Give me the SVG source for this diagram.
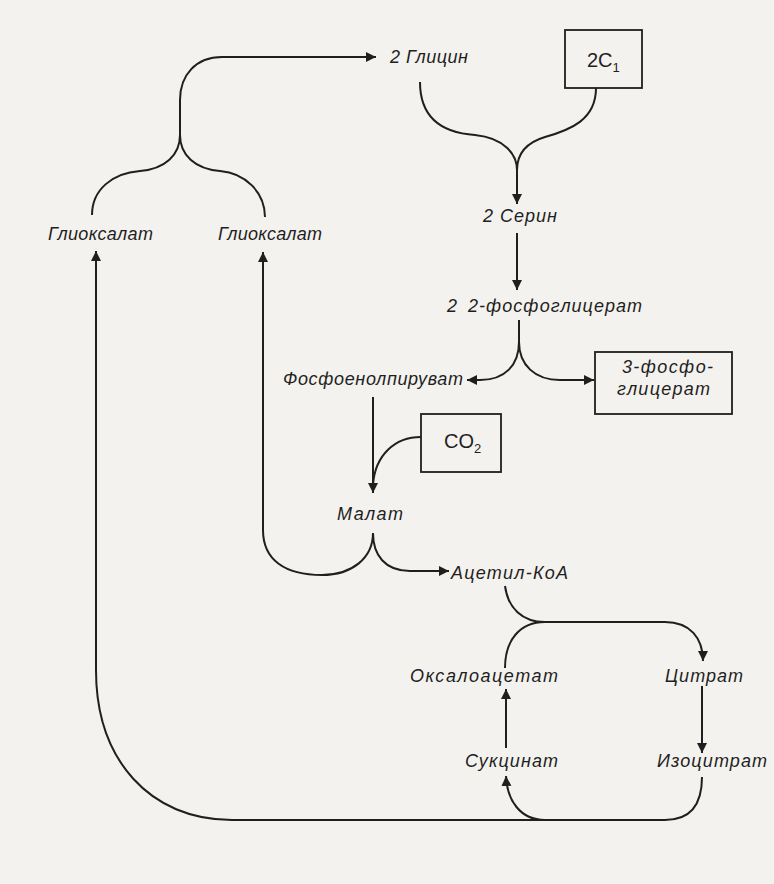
<svg xmlns="http://www.w3.org/2000/svg" width="774" height="884" viewBox="0 0 774 884">
<style>
.lbl{font-family:"Liberation Sans","DejaVu Sans",sans-serif;font-style:italic;font-size:18px;fill:#1f1f1f}
.box{fill:none;stroke:#1f1f1f;stroke-width:1.8}
.btx{font-family:"Liberation Sans","DejaVu Sans",sans-serif;font-size:20px;fill:#1f1f1f}
.sub{font-size:13px}
.c{fill:none;stroke:#1f1f1f;stroke-width:2}
.a{marker-end:url(#ah)}
</style>
<defs>
<marker id="ah" viewBox="0 0 10 10" refX="10" refY="5" markerWidth="10" markerHeight="11" markerUnits="userSpaceOnUse" orient="auto">
<path d="M0,0 L10,5 L0,10 z" fill="#1f1f1f"/>
</marker>
</defs>
<rect x="0" y="0" width="774" height="884" fill="#f4f2ee"/>
<g id="connectors">
<path class="c" d="M92 215 C92 190 112 173 140 171 C165 169 180 155 180 135"/>
<path class="c a" d="M265 217 C265 192 245 173 220 171 C195 169 180 155 180 135 V100 C180 75 196 57 222 57 L376 57"/>
<path class="c" d="M420 82 C420 120 445 133 475 135 C505 138 517 155 517 170"/>
<path class="c a" d="M596 88 C596 120 570 130 545 137 C525 143 517 155 517 170 V204"/>
<path class="c a" d="M517 233 V290"/>
<path class="c a" d="M519 320 V342 C519 365 505 380 480 380 L467 380"/>
<path class="c a" d="M519 342 C519 365 535 380 560 380 L594 380"/>
<path class="c a" d="M373 397 V493"/>
<path class="c" d="M421 437 C395 437 375 455 373 485"/>
<path class="c a" d="M373 533 C373 558 352 575 322 575 C285 575 263 560 263 530 V252"/>
<path class="c a" d="M373 533 C373 555 385 571 410 571 L449 571"/>
<path class="c a" d="M505 586 C508 608 522 622 545 622 L665 622 C690 622 703 638 703 661"/>
<path class="c" d="M545 622 C520 622 505 640 505 668"/>
<path class="c a" d="M702 686 V753"/>
<path class="c a" d="M702 777 C702 805 690 820 665 820 L545 820 C520 820 507 800 506 776"/>
<path class="c a" d="M506 748 V689"/>
<path class="c a" d="M545 820 L232 820 C150 820 96 760 96 670 V251"/>
</g>
<g id="glycine"><text class="lbl" x="390" y="63" textLength="78">2 Глицин</text></g>
<g id="c1"><rect class="box" x="565" y="30" width="77" height="58"/><text class="btx" x="587" y="67">2C<tspan class="sub" dy="5">1</tspan></text></g>
<g id="serine"><text class="lbl" x="483" y="222" textLength="74">2 Серин</text></g>
<g id="pg2"><text class="lbl" x="447" y="312">2</text><text class="lbl" x="468" y="312" textLength="174">2-фосфоглицерат</text></g>
<g id="pep"><text class="lbl" x="283" y="385" textLength="180">Фосфоенолпируват</text></g>
<g id="pg3"><rect class="box" x="595" y="352" width="137" height="62"/><text class="lbl" x="622" y="373" textLength="91">3-фосфо-</text><text class="lbl" x="617" y="395" textLength="93">глицерат</text></g>
<g id="co2"><rect class="box" x="421" y="414" width="80" height="58"/><text class="btx" x="444" y="448">CO<tspan class="sub" dy="5">2</tspan></text></g>
<g id="malate"><text class="lbl" x="337" y="520" textLength="66">Малат</text></g>
<g id="acetylcoa"><text class="lbl" x="451" y="579" textLength="117">Ацетил-КоА</text></g>
<g id="glyox1"><text class="lbl" x="48" y="240" textLength="105">Глиоксалат</text></g>
<g id="glyox2"><text class="lbl" x="218" y="240" textLength="104">Глиоксалат</text></g>
<g id="oaa"><text class="lbl" x="410" y="682" textLength="148">Оксалоацетат</text></g>
<g id="citrate"><text class="lbl" x="665" y="682" textLength="78">Цитрат</text></g>
<g id="succinate"><text class="lbl" x="465" y="767" textLength="93">Сукцинат</text></g>
<g id="isocitrate"><text class="lbl" x="657" y="767" textLength="110">Изоцитрат</text></g>
</svg>
